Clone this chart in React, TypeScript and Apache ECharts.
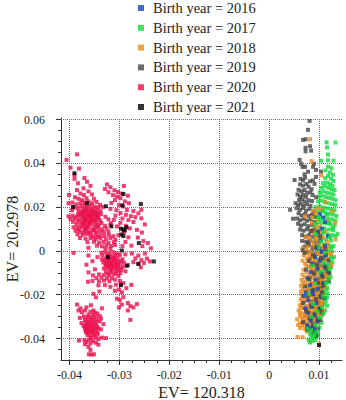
import React, { useEffect, useRef } from "react";
import * as echarts from "echarts";

const names = ["Birth year = 2016","Birth year = 2017","Birth year = 2018","Birth year = 2019","Birth year = 2020","Birth year = 2021"];
const colors = ["#1244c4","#12d93f","#ea8a1e","#454545","#ea0f4e","#000000"];
const xMajor = [-0.04,-0.03,-0.02,-0.01,0,0.01];
const yMajor = [-0.04,-0.02,0,0.02,0.04,0.06];
const xMinor = [-0.0375,-0.035,-0.0325,-0.0275,-0.025,-0.0225,-0.0175,-0.015,-0.0125,-0.0075,-0.005,-0.0025,0.0025,0.005,0.0075,0.0125];
const yMinor = [-0.045,-0.035,-0.03,-0.025,-0.015,-0.01,-0.005,0.005,0.01,0.015,0.025,0.03,0.035,0.045,0.05,0.055];

const y2020 = [
[-.0406,.0416],[-.0385,.0441],[-.0398,.038],[-.0381,.0376],[-.039,.0347],[-.039,.0329],[-.037,.0333],[-.0383,.0309],[-.0365,.0316],[-.0358,.0297],[-.0372,.0286],[-.0385,.0278],[-.0362,.0272],[-.0401,.0256],[-.0378,.0262],[-.0371,.0255],[-.0355,.0258],[-.0389,.0245],[-.0382,.0238],[-.0375,.0232],[-.0366,.0241],[-.0351,.0238],[-.0394,.0221],[-.0402,.0218],[-.0386,.0213],[-.0378,.0218],[-.037,.0222],[-.0362,.0226],[-.0355,.0218],[-.0346,.0224],[-.0339,.021],
[-.0392,.0198],[-.0384,.0196],[-.0376,.0204],[-.0369,.021],[-.0363,.0203],[-.0357,.0207],[-.0349,.0202],[-.0342,.0197],[-.0333,.0201],[-.0395,.0186],[-.0382,.0183],[-.0374,.019],[-.0368,.0194],[-.0361,.0189],[-.0353,.0192],[-.0346,.0186],[-.0338,.0182],[-.0372,.0178],[-.0366,.0181],[-.0359,.0176],[-.0352,.0179],[-.0344,.0174],[-.0379,.017],[-.0371,.0167],[-.0365,.0171],[-.0358,.0166],[-.0351,.0169],[-.0345,.0163],[-.0337,.0168],[-.0402,.0158],[-.0394,.0161],[-.0386,.0156],[-.0377,.0159],[-.0369,.0156],[-.0363,.016],[-.0356,.0155],[-.0349,.0157],[-.0342,.0152],[-.0328,.0156],
[-.0398,.0146],[-.039,.0149],[-.0381,.0143],[-.0373,.0147],[-.0366,.0144],[-.036,.0148],[-.0353,.0143],[-.0346,.0146],[-.0339,.014],[-.0322,.0144],[-.0393,.0133],[-.0384,.0135],[-.0376,.0131],[-.0369,.0136],[-.0362,.0132],[-.0355,.0135],[-.0347,.013],[-.0336,.0128],[-.0386,.0121],[-.0378,.0118],[-.0371,.0122],[-.0364,.0119],[-.0357,.0123],[-.0349,.0117],[-.0341,.0121],[-.0329,.0115],[-.0318,.012],
[-.0392,.0108],[-.0384,.0105],[-.0375,.0109],[-.0368,.0104],[-.036,.0107],[-.0351,.0103],[-.0343,.0106],[-.0335,.0099],[-.0326,.0103],[-.0388,.0092],[-.0379,.0088],[-.037,.0093],[-.0362,.0089],[-.0354,.0092],[-.0346,.0087],[-.0331,.0085],[-.0322,.0089],[-.0384,.0076],[-.0374,.0073],[-.0365,.0077],[-.0356,.0072],[-.0347,.0075],[-.0338,.007],[-.033,.0068],[-.0321,.0073],[-.0312,.0067],[-.0379,.0059],[-.0368,.0056],[-.0358,.0059],[-.0348,.0054],[-.0338,.0057],[-.0327,.0053],[-.0318,.0058],[-.0308,.005],[-.0364,.004],[-.0351,.0042],[-.0341,.0037],[-.0332,.0041],[-.0322,.0037],[-.0311,.004],[-.0345,.0024],[-.0335,.0021],[-.0326,.0026],[-.0317,.0022],[-.0309,.0027],[-.0362,.0014],[-.0328,.0012],[-.0318,.0009],
[-.0325,.0304],[-.0318,.0291],[-.0329,.0283],[-.031,.0277],[-.0303,.0269],[-.0322,.0268],[-.0296,.0262],[-.0291,.0297],[-.0313,.0255],[-.0305,.0248],[-.0283,.0252],[-.0298,.0241],[-.0289,.0226],[-.0281,.0218],[-.0309,.0232],[-.0316,.0219],[-.0301,.021],[-.0293,.0203],[-.0318,.0192],[-.0306,.0186],[-.0285,.0187],[-.0272,.0182],[-.0262,.0172],[-.0256,.0188],[-.0298,.0173],[-.0287,.0165],[-.0277,.0159],[-.0268,.0154],[-.0256,.0149],[-.0308,.0161],[-.0294,.0148],[-.0282,.0141],[-.0311,.0142],[-.0272,.0132],[-.0249,.0121],[-.0298,.0128],[-.0287,.0115],[-.0317,.0127],[-.0305,.0112],[-.0279,.0103],[-.0265,.0096],[-.0255,.0084],[-.0291,.0085],[-.0302,.0072],[-.0282,.0062],[-.0263,.0061],[-.0252,.0045],[-.0243,.0036],[-.0237,.0012],[-.0288,.0041],[-.0294,.0022],[-.0276,.0024],[-.0254,.0022],
[-.0336,-.0008],[-.0328,-.0004],[-.032,-.0011],[-.0312,-.0006],[-.0305,-.0012],[-.0392,-.0009],[-.0362,-.0021],[-.0344,-.0028],[-.0334,-.0021],[-.0325,-.0019],[-.0317,-.0024],[-.0309,-.0021],[-.0299,-.0018],[-.0288,-.0016],[-.0275,-.0012],[-.0262,-.0021],[-.0249,-.0012],[-.0354,-.0047],[-.0335,-.0039],[-.0327,-.0036],[-.0318,-.0041],[-.0311,-.0037],[-.0304,-.0044],[-.0294,-.0038],[-.0268,-.0034],[-.0256,-.0042],[-.0245,-.0035],[-.0332,-.0053],[-.0324,-.0049],[-.0316,-.0055],[-.0308,-.0051],[-.03,-.0056],[-.0291,-.0053],[-.0272,-.0051],[-.0262,-.0059],[-.0251,-.0055],[-.0239,-.0048],[-.0366,-.0063],[-.0328,-.0067],[-.032,-.0064],[-.0312,-.0069],[-.0303,-.0066],[-.0293,-.0071],[-.0283,-.0064],[-.0257,-.0075],[-.0349,-.0084],[-.0331,-.0081],[-.0322,-.0078],[-.0314,-.0084],[-.0305,-.0081],[-.0296,-.0086],[-.0288,-.0093],[-.0362,-.0098],[-.0327,-.0094],[-.0317,-.0097],[-.0308,-.0093],[-.0298,-.0101],[-.0353,-.0112],[-.0341,-.0107],[-.0331,-.011],[-.0321,-.0112],[-.0312,-.0108],[-.0302,-.0115],[-.0346,-.0124],[-.0336,-.0122],[-.0325,-.0126],[-.0315,-.0125],[-.0363,-.0141],[-.0354,-.0137],[-.0341,-.0139],[-.0331,-.0135],[-.032,-.0139],[-.0309,-.0131],[-.0299,-.0137],[-.0292,-.0147],[-.0342,-.0157],[-.0329,-.0156],[-.0318,-.0164],[-.0307,-.0154],[-.0297,-.0152],[-.0276,-.0155],[-.0286,-.017],[-.0301,-.0176],[-.0309,-.0182],[-.0295,-.0189],[-.034,-.0185],[-.0352,-.0196],[-.0347,-.0212],[-.0292,-.0211],[-.0305,-.0218],[-.0299,-.0225],[-.0283,-.0238],[-.0295,-.0245],[-.0301,-.0258],[-.0278,-.0252],[-.0272,-.0258],[-.0265,-.0243],[-.0283,-.0272],[-.0278,-.0315],
[-.0385,-.0245],[-.0378,-.0262],[-.0366,-.0258],[-.0357,-.0248],[-.0382,-.0272],[-.0369,-.0272],[-.0352,-.0272],[-.0349,-.0282],[-.0375,-.028],[-.0358,-.0278],[-.0335,-.0262],[-.0362,-.0291],[-.0353,-.0292],[-.0344,-.0286],[-.0371,-.0299],[-.0363,-.0302],[-.0356,-.0304],[-.0347,-.03],[-.0339,-.0298],[-.0379,-.0306],[-.0369,-.0312],[-.0361,-.0314],[-.0352,-.0311],[-.0345,-.0316],[-.0337,-.0309],[-.0368,-.0322],[-.0362,-.0325],[-.0355,-.0321],[-.0348,-.0327],[-.034,-.0322],[-.0376,-.0329],[-.0366,-.0333],[-.036,-.0335],[-.0354,-.0331],[-.0347,-.0336],[-.0332,-.0334],[-.0372,-.0342],[-.0367,-.0344],[-.0363,-.0341],[-.0358,-.0345],[-.0352,-.0342],[-.0344,-.0347],[-.0369,-.0352],[-.0365,-.0354],[-.036,-.0351],[-.0355,-.0356],[-.035,-.0352],[-.0342,-.0355],[-.0368,-.0362],[-.0364,-.0364],[-.0359,-.0361],[-.0353,-.0366],[-.0347,-.0362],[-.0337,-.0358],[-.0367,-.0372],[-.0362,-.0375],[-.0357,-.0371],[-.0351,-.0377],[-.0344,-.0373],[-.0335,-.0396],[-.0327,-.0398],[-.0364,-.0384],[-.0358,-.0387],[-.0351,-.0385],[-.0344,-.0382],[-.0357,-.0398],[-.0348,-.0396],[-.0342,-.0402],[-.0381,-.0409],[-.037,-.0407],[-.0361,-.0405],[-.0353,-.0412],[-.0366,-.0415],[-.0369,-.0426],[-.0358,-.0422],[-.0347,-.0419],[-.0342,-.0428],[-.0362,-.0438],[-.0358,-.0452],[-.0361,-.0472],[-.0356,-.0473],[-.0351,-.0472],
[-.0367,.0186],[-.0356,.0184],[-.0348,.0176],[-.0375,.0176],[-.0383,.0165],[-.0361,.0163],[-.0354,.0161],[-.0343,.0158],[-.0372,.0153],[-.0358,.0141],[-.0368,.0141],[-.035,.0139],[-.0372,.0127],[-.0359,.0128],[-.0344,.0112],[-.0366,.0112],[-.0381,.0098],[-.0367,.0098],[-.0351,.0095],[-.0339,.0088],[-.0372,.0083],[-.0359,.0081],[-.0343,.0064],[-.0352,.0062],
[-.0322,-.0029],[-.0313,-.0031],[-.0305,-.003],[-.033,-.0044],[-.0321,-.0046],[-.0312,-.0045],[-.0297,-.0047],[-.0326,-.0059],[-.0316,-.0061],[-.0307,-.006],[-.0324,-.0072],[-.0316,-.0074],[-.0308,-.0073],[-.0298,-.0076],[-.0318,-.0089],[-.0302,-.0089],[-.0323,-.0103],[-.0306,-.0103],
];

const y2021 = [[-.039,.0355],[-.0365,.0218],[-.0393,.0201],[-.0327,.0204],[-.0292,.026],[-.0294,.0208],[-.0257,.0214],[-.0316,.0112],[-.0297,.0102],[-.0293,.0098],[-.0289,.0094],[-.0286,.0108],[-.0296,.0075],[-.0292,.0068],[-.0261,.0036],[-.0295,.0002],[-.0323,-.0028],[-.0285,-.0068],[-.0262,-.0059],[-.0231,-.0048],[-.0297,-.0156],[.01,-.043]];

const y2019 = [[.0081,.0594],[.0078,.0553],[.0068,.0507],[.0073,.051],[.0073,.0471],[.0082,.0478],[.0073,.0455],[.0084,.0458],[.0061,.0416],[.0064,.0398],[.0067,.0384],[.0072,.0384],[.009,.0398],[.0088,.0384],[.0094,.037],[.0104,.0362],[.0078,.0362],[.0071,.035],[.0063,.0329],[.0051,.0324],[.0068,.0322],[.0072,.0335],[.0088,.0322],[.0094,.0338],[.0082,.0318],[.0075,.0306],[.0062,.0304],[.0068,.0298],[.0091,.0306],[.0079,.0293],[.0085,.0282],[.0059,.0279],[.0065,.0272],[.0071,.0278],[.0076,.0265],[.0083,.0268],[.0057,.0258],[.0062,.0248],[.0068,.0255],[.0074,.0247],[.0087,.0255],[.0094,.0245],[.006,.0232],[.0066,.0236],[.0071,.0226],[.0079,.0231],[.0086,.0228],[.0053,.0218],[.0058,.0209],[.0063,.0215],[.0069,.0207],[.0076,.0214],[.0083,.0206],[.0042,.0188],[.0055,.0195],[.0062,.0188],[.0068,.0196],[.0074,.0184],[.0081,.0192],[.0089,.018],[.0059,.0172],[.0065,.0163],[.0072,.0169],[.0079,.016],[.0086,.0166],[.0093,.0155],[.0048,.0147],[.0056,.0148],[.0062,.014],[.0069,.0146],[.0076,.0138],[.0083,.0144],[.009,.0132],[.0058,.0124],[.0064,.0116],[.0071,.0122],[.0078,.0113],[.0086,.0119],[.0062,.0098],[.0069,.0092],[.0076,.0099],[.0083,.009],[.0091,.0096],[.0098,.0086],[.0066,.0072],[.0073,.0066],[.008,.0073],[.0088,.0064],[.0095,.007],[.0066,.0046],[.0074,.0042],[.0082,.0048],[.0091,.0039],[.0099,.0044],[.0071,.002],[.008,.0026],[.0088,.0016],[.0097,.0022],[.0106,.0012],[.0078,-.0006],[.0086,.0002],[.0094,-.0012],[.0103,-.0004],[.0112,-.0022],[.0082,-.0035],[.0091,-.0028],[.0099,-.0043],[.0108,-.0036],[.0085,-.0062],[.0094,-.0056],[.0103,-.007],[.0111,-.0062],[.0088,-.0092],[.0096,-.0085],[.0105,-.0098],[.0082,-.0118],[.0091,-.0112],[.0099,-.0125],[.0108,-.0118],[.0085,-.0148],[.0094,-.014],[.0103,-.0152],[.0079,-.0172],[.0088,-.0166],[.0097,-.018],[.0106,-.0172],[.0083,-.0202],[.0092,-.0196],[.0101,-.0208],[.0076,-.0225],[.0086,-.0231],[.0095,-.0224],[.0104,-.0238],[.0079,-.0258],[.0089,-.0252],[.0098,-.0266],[.0107,-.0282],[.0082,-.0285],[.0092,-.0292],[.0072,-.0295],[.0085,-.0318],[.0095,-.0325],[.0078,-.0338],[.009,-.0352],[.0098,-.0355],[.0085,-.0375],[.0094,-.0388]];

const y2019top = [[.0121,-.0102],[.0119,-.0135],[.0112,-.0215],[.0105,-.028],[.0103,-.0315],[.0085,.0092],[.0102,.0068],[.0078,.0035],[.0095,.0018],[.0071,-.0008],[.0088,-.0018],[.0104,-.0032],[.0079,-.0046],[.0096,-.0065],[.0113,-.0078],[.0074,-.0085],[.009,-.0102],[.0107,-.0118],[.0081,-.013],[.0098,-.0146],[.0072,-.0162],[.0089,-.0178],[.0106,-.019],[.0077,-.0206],[.0094,-.022],[.0068,-.0238],[.0084,-.0248],[.0101,-.026],[.0074,-.0274],[.0091,-.0286],[.0081,-.0305],[.0097,-.0312],[.0068,-.0325],[.0088,-.0335],[.0076,-.0358],[.0092,-.037],[.0067,.0003],[.0113,.0008],[.0119,-.0042],[.0117,-.0095],[.0109,-.0158],[.0103,-.0205]];
const y2017top = [[.0108,.0182],[.0116,.0166],[.0103,.0144],[.0121,.0128],[.0128,.0105],[.0109,.0088],[.0122,.0062],[.0104,.0042],[.0125,.0018],[.0112,-.0008],[.0126,-.0034],[.0108,-.0056],[.0122,-.0082],[.0087,-.0068],[.0103,-.0096],[.0119,-.0128],[.0092,-.0146],[.0115,-.0176],[.0079,-.0196],[.0108,-.0206],[.0113,-.0232],[.0088,-.0244],[.0106,-.0256],[.0096,-.0275],[.0109,-.0286],[.0084,-.03],[.0101,-.0305],[.0092,-.0338],[.0077,-.0355],[.0084,-.0362],[.0095,-.0368],[.0082,-.0378],[.0091,-.0382],[.0088,-.0396],[.0092,-.0408],[.0082,-.0418],[.0098,.0155],[.0094,.0122],[.0093,.0078],[.0099,.0018],[.0119,-.0062],[.0114,-.0148],[.0116,-.0212]];

const y2018 = [[.0082,.051],[.0085,.041],[.0105,.0345],[.0112,.0225],[.0127,.0182],[.0105,.019],[.0072,.0158],[.0118,.0135],[.0132,.0128],[.0092,.0118],[.0102,.0112],[.0084,.0095],[.0113,.009],[.0096,.0075],[.0074,.0062],[.0105,.0058],[.0133,.0052],[.0087,.0044],[.0116,.004],[.01,.003],[.0078,.0022],[.0092,.0015],[.0123,.0012],[.0108,.0008],[.0083,-.0001],[.0114,-.0006],[.0072,-.0012],[.0096,-.0014],[.0124,-.0018],[.0086,-.0023],[.0105,-.0027],[.0076,-.0034],[.0094,-.0036],[.0116,-.0038],[.0082,-.0048],[.0101,-.0052],[.0122,-.0056],[.0072,-.0058],[.0091,-.0062],[.011,-.0065],[.008,-.0073],[.0098,-.0078],[.0117,-.0082],[.0069,-.0086],[.0087,-.0088],[.0106,-.0092],[.0075,-.0098],[.0094,-.0102],[.0113,-.0105],[.0083,-.0112],[.0101,-.0116],[.0071,-.0121],[.009,-.0125],[.0108,-.0128],[.0079,-.0135],[.0097,-.0138],[.0114,-.0142],[.0068,-.0146],[.0086,-.015],[.0104,-.0152],[.0076,-.016],[.0094,-.0164],[.0111,-.0168],[.0067,-.0172],[.0084,-.0175],[.0101,-.0178],[.0074,-.0185],[.0091,-.0188],[.0107,-.0192],[.0065,-.0198],[.0082,-.02],[.0098,-.0204],[.0072,-.021],[.0089,-.0214],[.0104,-.0218],[.0063,-.0222],[.008,-.0226],[.0096,-.0228],[.007,-.0236],[.0087,-.0238],[.0102,-.0242],[.0062,-.0248],[.0077,-.025],[.0093,-.0254],[.0068,-.026],[.0084,-.0264],[.0099,-.0268],[.0059,-.0272],[.0074,-.0274],[.0089,-.0278],[.0065,-.0284],[.008,-.0288],[.0095,-.0292],[.0062,-.0298],[.0072,-.03],[.0087,-.0302],[.0056,-.0312],[.0068,-.0315],[.008,-.0318],[.0092,-.032],[.0062,-.0328],[.0074,-.0331],[.0086,-.0334],[.0058,-.0338],[.0067,-.034],[.0079,-.0345],[.0062,-.0352],[.0071,-.0355],[.0085,-.0362],[.0075,-.0368],[.0057,-.0393],[.0067,-.0394],[.0081,-.0415],[.01,-.0425],[.0094,-.0345],[.0107,-.0232],[.0118,-.0122],[.0125,-.0066],
[.0067,.0014],[.0075,.0008],[.0069,-.0022],[.0081,-.0016],[.0089,-.0042],[.0067,-.0045],[.0075,-.0067],[.0084,-.0078],[.0093,-.0082],[.0067,-.0108],[.0078,-.0118],[.0087,-.0106],[.0099,-.0098],[.0104,-.0072],[.0065,-.0132],[.0073,-.0142],[.0081,-.0155],[.0091,-.0146],[.0106,-.0136],[.0112,-.0118],[.0064,-.0158],[.0071,-.0182],[.0078,-.0172],[.0088,-.0162],[.0098,-.0158],[.0064,-.0185],[.0079,-.0192],[.0085,-.0204],[.0094,-.0196],[.0103,-.0186],[.0066,-.0212],[.0075,-.0218],[.0092,-.0228],[.0099,-.0218],[.0108,-.0206],[.0068,-.0228],[.0082,-.0236],[.0097,-.0242],[.0104,-.0252],[.0065,-.0245],[.0074,-.0256],[.0088,-.0256],[.0063,-.0262],[.0079,-.0272],[.0094,-.0272],[.0102,-.028],[.0062,-.0285],[.0072,-.0288],[.0086,-.0292],[.0099,-.0298],[.0066,-.0305],[.0077,-.0308],[.0092,-.0308],[.0072,-.0322],[.0084,-.0326],[.0098,-.033],[.0066,-.0332],[.0078,-.0338],[.0094,-.0352],[.0088,-.0346],[.0082,-.0352],[.0103,-.002],[.0098,.0048],[.0109,.0022],[.0118,.0022],[.0081,.0058],[.0092,.0062],[.0089,.0028],[.0099,-.0006],[.0111,-.0048],[.0085,-.0058],[.0098,-.0045],
[.0088,.0185],[.0093,.0172],[.0098,.0195],[.0087,.0152],[.0097,.0142],[.0086,.0128],[.0095,.0102],[.0089,.0082],[.0102,.0088],[.0108,.0062],[.0121,-.0012],[.0119,-.0072],[.0115,-.0112],[.0111,-.0156],[.0106,-.0236],[.0108,-.0268],[.0103,-.0292]];

const y2016 = [[.0112,.0132],[.0106,.0102],[.0098,.0087],[.0118,.0068],[.0103,.0048],[.0112,.0024],[.0095,.0012],[.0106,-.0004],[.0114,-.0018],[.0092,-.0028],[.0102,-.0045],[.0087,-.0058],[.0111,-.0071],[.0097,-.0082],[.0083,-.0096],[.0105,-.0106],[.0077,-.0125],[.0093,-.0133],[.0108,-.0146],[.0082,-.0156],[.0098,-.0172],[.0074,-.019],[.0088,-.0198],[.0104,-.0212],[.0079,-.0225],[.0095,-.0238],[.0086,-.0255],[.0102,-.0265],[.0078,-.0282],[.0091,-.0295],[.0083,-.0318],[.0097,-.0322],[.0076,-.034],[.0088,-.0345],[.0082,-.0352],[.0092,-.0358],[.0099,-.0312],[.0072,-.0262],[.0069,-.0205],[.0086,-.0184],[.0102,.0168],[.0108,.0152]];

const y2017 = [[.0115,.0496],[.0133,.0495],[.0116,.0473],[.0118,.044],[.0104,.0412],[.0118,.0414],[.0129,.0412],[.0118,.0385],[.0125,.0378],[.0113,.0368],[.0122,.0358],[.0128,.0348],[.0118,.0342],[.0112,.0332],[.0124,.033],[.0129,.032],[.0108,.031],[.0116,.0312],[.0122,.0305],[.0127,.0298],[.0105,.0289],[.0112,.0294],[.0119,.0288],[.0125,.0282],[.0131,.0278],[.0102,.0268],[.0109,.0272],[.0116,.0265],[.0123,.0262],[.0129,.0258],[.01,.0248],[.0107,.0252],[.0114,.0245],[.0121,.0242],[.0127,.0238],[.0133,.0232],[.0098,.0226],[.0105,.0229],[.0112,.0222],[.0119,.0218],[.0126,.0214],[.0132,.021],[.0094,.02],[.0102,.0204],[.011,.0198],[.0117,.0194],[.0124,.019],[.0131,.0186],[.0096,.0178],[.0105,.0181],[.0113,.0174],[.0121,.017],[.0128,.0166],[.0135,.016],[.0092,.0156],[.0101,.0159],[.011,.0152],[.0118,.0148],[.0126,.0144],[.0133,.0139],[.0096,.0132],[.0106,.0128],[.0115,.0125],[.0123,.0121],[.0131,.0116],[.0091,.0108],[.0101,.0105],[.0111,.0102],[.012,.0098],[.0128,.0094],[.0096,.0084],[.0107,.008],[.0117,.0076],[.0126,.0072],[.0133,.0068],[.0092,.0058],[.0103,.0055],[.0114,.0052],[.0124,.0048],[.0099,.0032],[.011,.0029],[.012,.0026],[.0129,.0022],[.0137,.0078],[.0096,.0008],[.0107,.0005],[.0118,.0002],[.0126,-.0002],[.0101,-.0016],[.0113,-.002],[.0123,-.0024],[.013,-.0028],[.0097,-.004],[.0109,-.0044],[.012,-.0048],[.0127,-.0052],[.0103,-.0066],[.0115,-.007],[.0124,-.0074],[.0098,-.0088],[.011,-.0092],[.012,-.0096],[.0105,-.0112],[.0116,-.0116],[.0123,-.012],[.01,-.0136],[.0112,-.014],[.012,-.0144],[.0094,-.0158],[.0106,-.0162],[.0116,-.0168],[.0099,-.0184],[.011,-.0188],[.0117,-.0194],[.0092,-.0208],[.0104,-.0212],[.0113,-.0218],[.0086,-.0232],[.0098,-.0238],[.0109,-.0244],[.0116,-.025],[.0091,-.026],[.0103,-.0266],[.0112,-.0272],[.0096,-.0288],[.0106,-.0295],[.0086,-.0312],[.0098,-.0318],[.0105,-.0328],[.0081,-.0342],[.0091,-.0345],[.0101,-.035],[.0078,-.0366],[.0088,-.0368],[.0097,-.0375],[.0084,-.0388],[.0094,-.0392],[.0087,-.0402],[.0098,-.0385],[.0079,-.0405],[.0085,-.0412]];

const Y_MIN = -0.0498, Y_MAX = 0.0607, X_MIN = -0.0417, X_MAX = 0.0146;
const axisLine = { show: true, onZero: false, lineStyle: { color: "#333", width: 1 } };
const font = "'Liberation Serif', serif";

export default function App() {
  const ref = useRef<HTMLDivElement>(null);
  useEffect(() => {
    const chart = echarts.init(ref.current!, undefined, { renderer: "svg" });
    const scatter = (i: number, data: number[][], z: number) => ({
      type: "scatter", name: names[i], data, symbol: "rect", symbolSize: 4, z, xAxisIndex: 0, yAxisIndex: 0,
      itemStyle: { color: colors[i] }, clip: false,
    });
    chart.setOption({
      animation: false,
      textStyle: { fontFamily: font },
      legend: {
        data: names, left: 138, top: 0, padding: 0, orient: "vertical", icon: "rect", itemWidth: 6, itemHeight: 6, itemGap: 3.8,
        selectedMode: false, textStyle: { fontFamily: font, fontSize: 14.5, color: "#222", padding: [0, 0, 0, 4], lineHeight: 16 },
      },
      grid: { left: 61, top: 118, width: 281, height: 242, containLabel: false, outerBoundsMode: "none" },
      xAxis: [
        { type: "value", min: X_MIN, max: X_MAX, position: "bottom",
          name: "EV= 120.318", nameLocation: "middle", nameGap: 24, nameMoveOverlap: false, nameTextStyle: { fontFamily: font, fontSize: 16, color: "#222" },
          axisLine, axisTick: { show: true, customValues: xMajor, length: 5, lineStyle: { color: "#333" } },
          axisLabel: { customValues: xMajor, margin: 9, fontFamily: font, fontSize: 12, color: "#222", formatter: (v: number) => String(+v.toFixed(2)) },
          splitLine: { show: false } },
        { type: "value", min: X_MIN, max: X_MAX, position: "bottom", axisLine: { show: false, onZero: false },
          axisTick: { show: true, customValues: xMinor, length: 3, lineStyle: { color: "#333" } }, axisLabel: { show: false }, splitLine: { show: false } },
      ],
      yAxis: [
        { type: "value", min: Y_MIN, max: Y_MAX, position: "left",
          name: "EV= 20.2978", nameLocation: "middle", nameGap: 41, nameMoveOverlap: false, nameTextStyle: { fontFamily: font, fontSize: 16, color: "#222" },
          axisLine, axisTick: { show: true, customValues: yMajor, length: 5, lineStyle: { color: "#333" } },
          axisLabel: { customValues: yMajor, margin: 16, fontFamily: font, fontSize: 12, color: "#222", formatter: (v: number) => String(+v.toFixed(2)) },
          splitLine: { show: false } },
        { type: "value", min: Y_MIN, max: Y_MAX, position: "left", axisLine: { show: false, onZero: false },
          axisTick: { show: true, customValues: yMinor, length: 3, lineStyle: { color: "#333" } }, axisLabel: { show: false }, splitLine: { show: false } },
      ],
      series: [
        { type: "line", data: [], silent: true, z: 1, markLine: { silent: true, symbol: "none", label: { show: false }, animation: false,
          lineStyle: { color: "#6f6f6f", type: "dotted", width: 1 }, data: [...xMajor.map((v) => ({ xAxis: v })), ...yMajor.map((v) => ({ yAxis: v }))] } },
        scatter(1, y2017, 3), scatter(3, y2019, 4), scatter(2, y2018, 5), scatter(0, y2016, 6), scatter(3, y2019top, 7), scatter(1, y2017top, 8), scatter(4, y2020, 9), scatter(5, y2021, 10),
      ],
    });
    return () => chart.dispose();
  }, []);
  return <div ref={ref} style={{ width: 346, height: 400, position: "absolute", left: 0, top: 0, background: "#fff" }} />;
}
